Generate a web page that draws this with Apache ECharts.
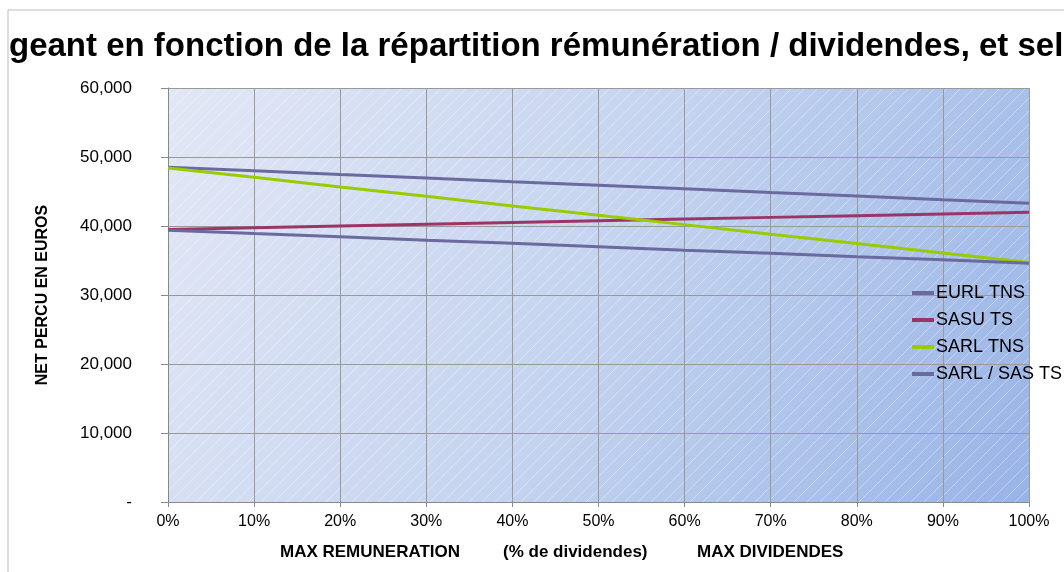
<!DOCTYPE html>
<html>
<head>
<meta charset="utf-8">
<script src="https://cdn.jsdelivr.net/npm/echarts@6/dist/echarts.min.js"></script>
<style>
  html, body { margin: 0; padding: 0; background: #fff; }
  #chart { width: 1064px; height: 572px; }
</style>
</head>
<body>
<div id="chart"></div>
<script>
// categories (% de dividendes)
const categories = ['0%', '10%', '20%', '30%', '40%', '50%', '60%', '70%', '80%', '90%', '100%'];

// net perçu en euros
const eurlTns = [48500, 48000, 47450, 46950, 46400, 45900, 45400, 44850, 44350, 43800, 43300];
const sasuTs = [39500, 39750, 40000, 40250, 40500, 40750, 41000, 41250, 41500, 41750, 42000];
const sarlTns = [48400, 47050, 45650, 44300, 42900, 41550, 40200, 38800, 37450, 36100, 34700];
const sarlSasTs = [39400, 38900, 38450, 37950, 37500, 37000, 36500, 36050, 35550, 35100, 34600];

const plot = { left: 168, top: 88, width: 861, height: 414 };

// plot background: gradient with thin white diagonal hatching
function makeBackground(w, h) {
  const c = document.createElement('canvas');
  c.width = w; c.height = h;
  const ctx = c.getContext('2d');
  const g = ctx.createLinearGradient(0, 0, w, h);
  g.addColorStop(0, '#e2e7f5');
  g.addColorStop(0.5, '#c4d3ef');
  g.addColorStop(1, '#98b4e6');
  ctx.fillStyle = g;
  ctx.fillRect(0, 0, w, h);
  ctx.strokeStyle = 'rgba(255,255,255,0.45)';
  ctx.lineWidth = 0.8;
  for (let x = -h; x < w + h; x += 13) {
    ctx.beginPath();
    ctx.moveTo(x, h);
    ctx.lineTo(x + h, 0);
    ctx.stroke();
  }
  return c;
}

const chart = echarts.init(document.getElementById('chart'));

const purple = '#6a6a9e';
const lineStyle = (color) => ({ color: color, width: 3 });
const nameFont = 'bold 17px Liberation Sans, Arial';

chart.setOption({
  animation: false,
  textStyle: { fontFamily: 'Liberation Sans, Arial, sans-serif' },
  title: {
    text: 'geant en fonction de la répartition rémunération / dividendes, et sel',
    left: 4,
    top: 25,
    textStyle: { fontSize: 33, fontWeight: 'bold', color: '#000' }
  },
  graphic: [
    { type: 'rect', shape: { x: 0, y: 0, width: 9, height: 572 }, style: { fill: '#fff' }, z: 100 },
    { type: 'line', shape: { x1: 8, y1: 10, x2: 1064, y2: 10 }, style: { stroke: '#bbb', lineWidth: 1 }, z: 100 },
    { type: 'line', shape: { x1: 8, y1: 10, x2: 8, y2: 572 }, style: { stroke: '#bbb', lineWidth: 1 }, z: 100 },
    {
      type: 'image', z: -10,
      style: { image: makeBackground(plot.width, plot.height), x: plot.left, y: plot.top, width: plot.width, height: plot.height }
    },
    { type: 'text', left: 280, top: 544, style: { text: 'MAX REMUNERATION', font: nameFont, fill: '#000' } },
    { type: 'text', left: 503, top: 544, style: { text: '(% de dividendes)', font: nameFont, fill: '#000' } },
    { type: 'text', left: 697, top: 544, style: { text: 'MAX DIVIDENDES', font: nameFont, fill: '#000' } }
  ],
  legend: {
    orient: 'vertical',
    left: 907,
    top: 279,
    itemGap: 9,
    itemWidth: 22,
    itemHeight: 4,
    icon: 'rect',
    textStyle: { fontSize: 18, color: '#000', padding: [0, 0, 0, -3] },
    data: ['EURL TNS', 'SASU TS', 'SARL TNS', 'SARL / SAS TS']
  },
  grid: { left: plot.left, top: plot.top, width: plot.width, height: plot.height },
  xAxis: {
    type: 'category',
    data: categories,
    boundaryGap: false,
    axisLine: { lineStyle: { color: '#888' } },
    axisTick: { show: true, length: 5, lineStyle: { color: '#888' } },
    axisLabel: { color: '#000', fontSize: 16, margin: 12 },
    splitLine: { show: true, lineStyle: { color: '#999', width: 1 } }
  },
  yAxis: {
    type: 'value',
    min: 0,
    max: 60000,
    interval: 10000,
    name: 'NET PERCU EN EUROS',
    nameLocation: 'middle',
    nameGap: 117,
    nameRotate: 90,
    nameTextStyle: { fontSize: 16, fontWeight: 'bold', color: '#000' },
    axisLine: { show: true, lineStyle: { color: '#888' } },
    axisTick: { show: true, length: 7, lineStyle: { color: '#888' } },
    axisLabel: {
      color: '#000', fontSize: 17, margin: 36,
      formatter: (v) => v === 0 ? '-' : v.toLocaleString('en-US')
    },
    splitLine: { show: true, lineStyle: { color: '#999', width: 1 } }
  },
  series: [
    { name: 'EURL TNS', type: 'line', data: eurlTns, symbol: 'none', color: purple, lineStyle: lineStyle(purple) },
    { name: 'SASU TS', type: 'line', data: sasuTs, symbol: 'none', color: '#9c3566', lineStyle: lineStyle('#9c3566') },
    { name: 'SARL TNS', type: 'line', data: sarlTns, symbol: 'none', color: '#99cc00', lineStyle: lineStyle('#99cc00') },
    { name: 'SARL / SAS TS', type: 'line', data: sarlSasTs, symbol: 'none', color: purple, lineStyle: lineStyle(purple) }
  ]
});
</script>
</body>
</html>
